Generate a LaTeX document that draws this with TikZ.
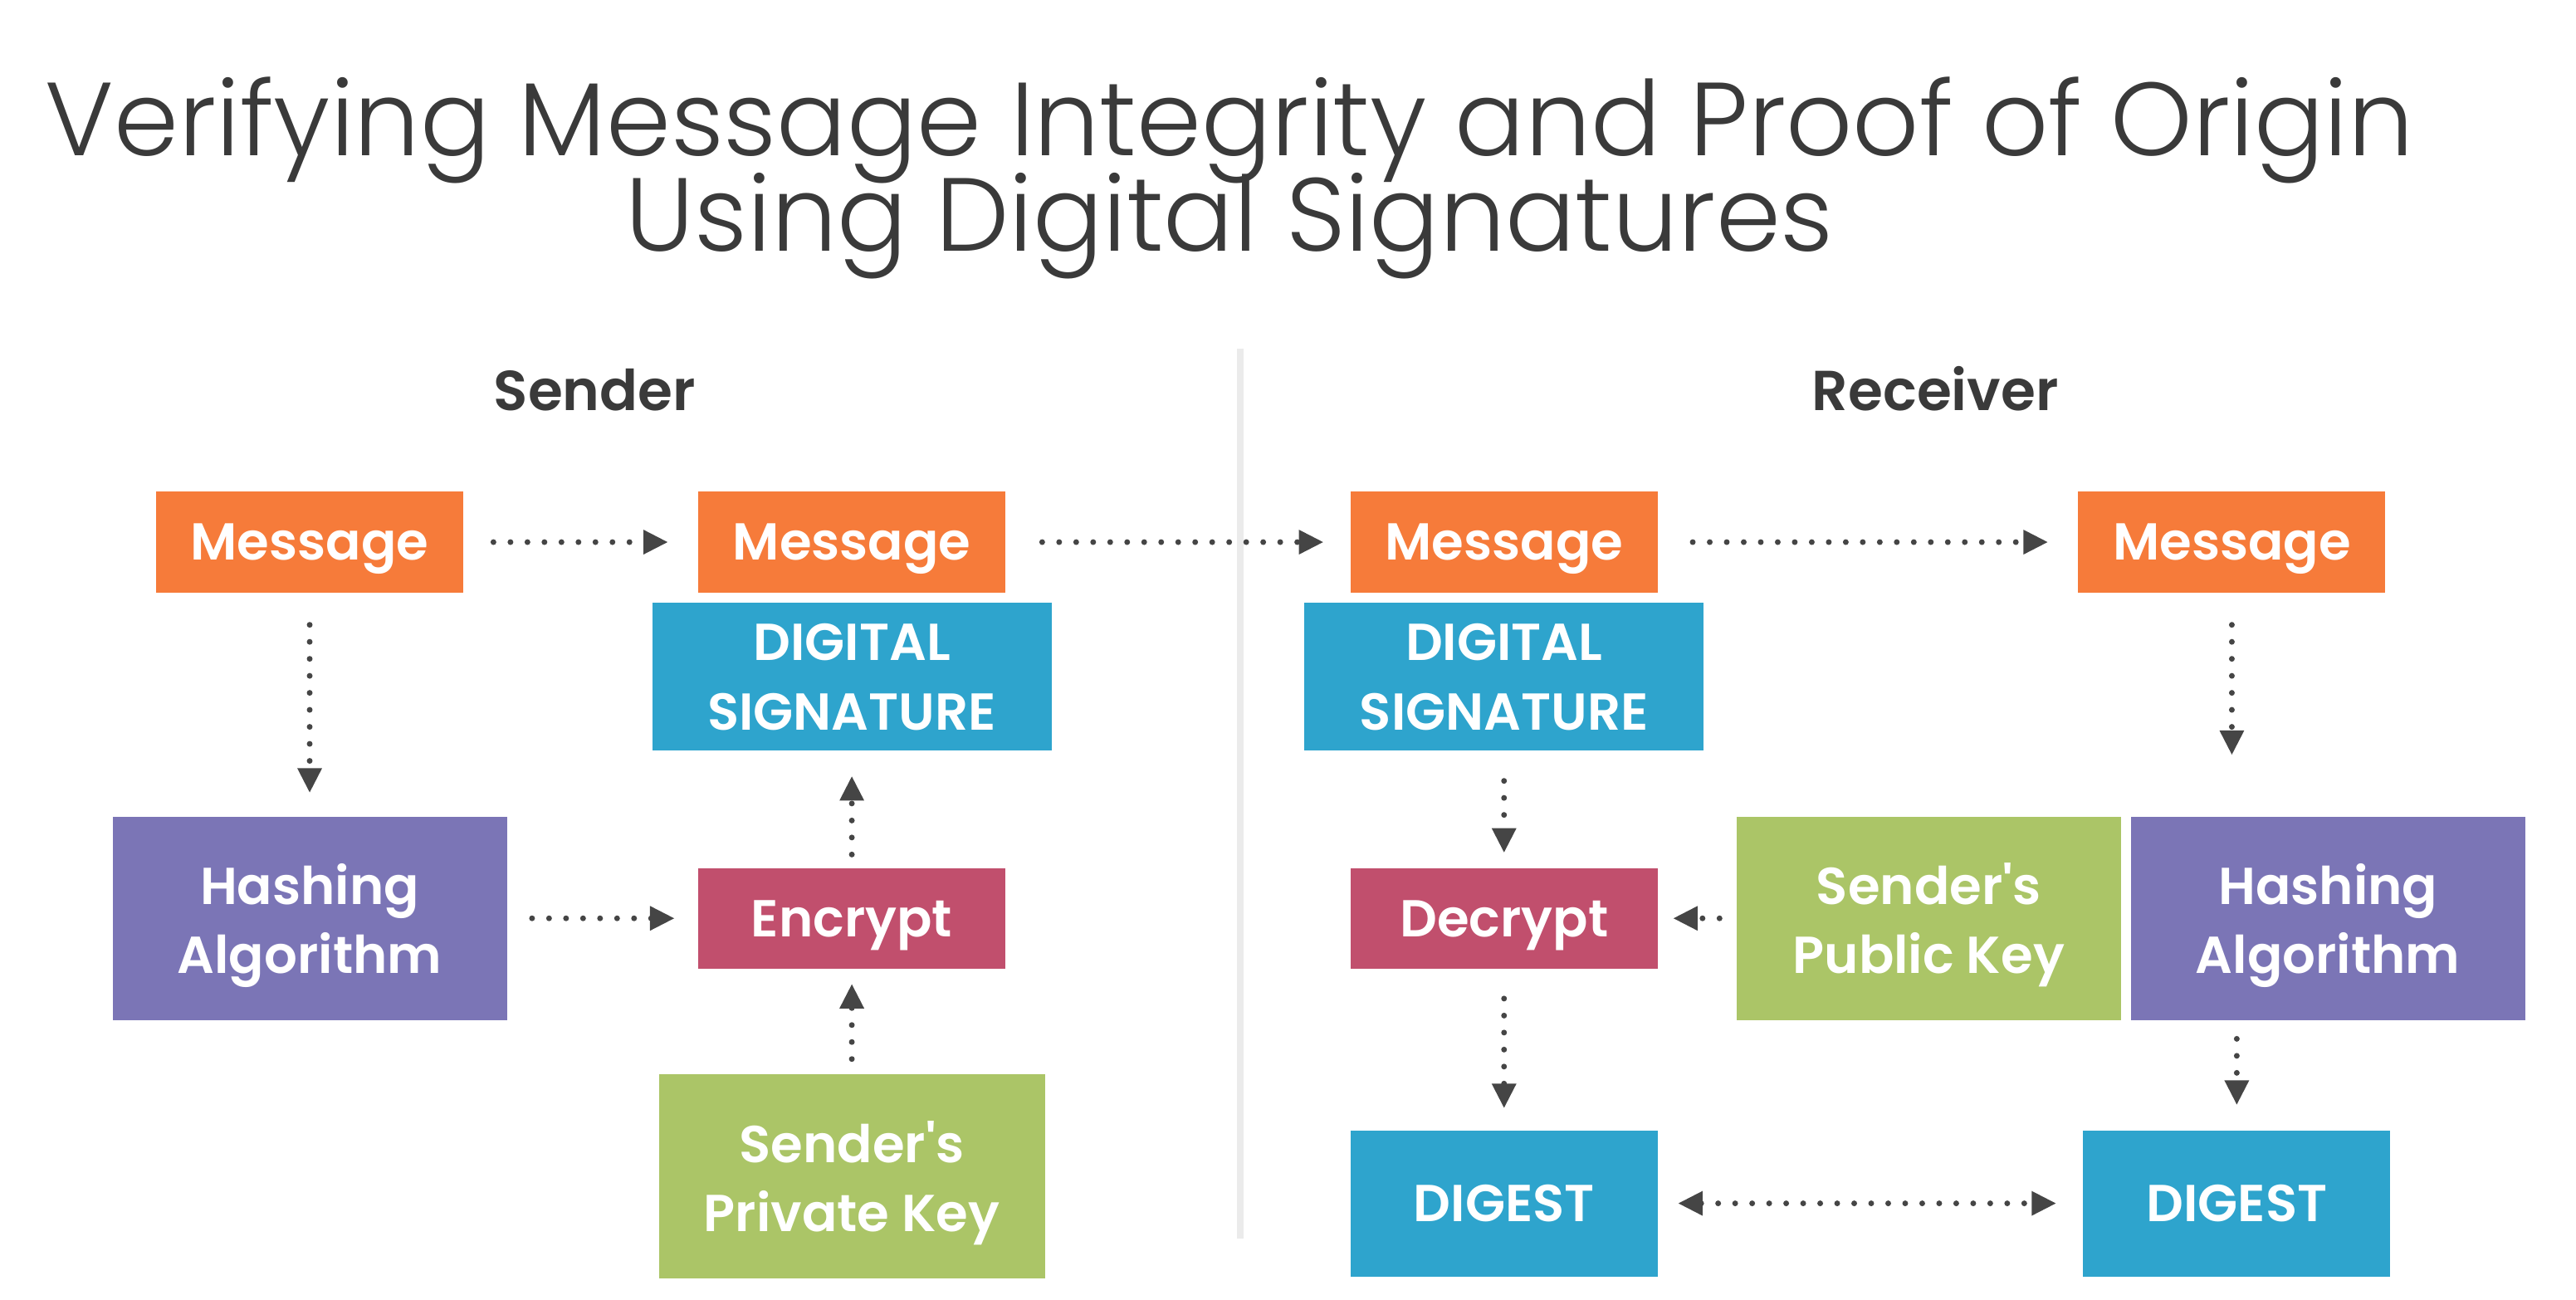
\documentclass[tikz,border=0pt]{standalone}
\usepackage{fontspec}
\setmainfont{Poppins}
\IfFontExistsTF{Poppins Light}{\newfontfamily\titlefont{Poppins Light}}{\newfontfamily\titlefont{Poppins}}
\IfFontExistsTF{Poppins SemiBold}{\newfontfamily\boxfont{Poppins SemiBold}}{\newfontfamily\boxfont{Poppins}}
\usetikzlibrary{arrows.meta}

\definecolor{msgorange}{HTML}{F67B3A}
\definecolor{sigblue}{HTML}{2EA4CD}
\definecolor{hashpurple}{HTML}{7B75B6}
\definecolor{cryptred}{HTML}{C14F6D}
\definecolor{keygreen}{HTML}{ABC567}
\definecolor{flowgray}{HTML}{454545}
\definecolor{titlegray}{HTML}{3A3A3A}

\begin{document}
\begin{tikzpicture}[>={Triangle[length=.3cm,width=.28cm]}, line join=round,
  box/.style={fill=#1, text=white, inner sep=0pt, align=center, text depth=0pt,
    font=\boxfont\fontsize{18}{24}\selectfont},
  msgbox/.style={box=msgorange, minimum width=3.74cm, minimum height=1.24cm},
  sigbox/.style={box=sigblue, minimum width=4.86cm, minimum height=1.80cm},
  hashbox/.style={box=hashpurple, minimum width=4.80cm, minimum height=2.48cm},
  cryptbox/.style={box=cryptred, minimum width=3.74cm, minimum height=1.22cm},
  keybox/.style={box=keygreen, minimum width=4.70cm, minimum height=2.48cm},
  digestbox/.style={box=sigblue, minimum width=3.74cm, minimum height=1.78cm},
  flow/.style={->, flowgray, line width=2pt, line cap=round,
    dash pattern=on 0pt off .207cm, shorten <=.34cm, shorten >=.34cm},
  heading/.style={anchor=base, text=titlegray, font=\boxfont\fontsize{19.5}{24}\selectfont},
  bigtitle/.style={anchor=base, text=titlegray, font=\titlefont\fontsize{36}{40}\selectfont}]
  \useasboundingbox (0,0) rectangle (31.36,15.82);

  % title
  \node[bigtitle] (title1) at (14.97,13.92) {Verifying Message Integrity and Proof of Origin};
  \node[bigtitle] (title2) at (14.97,12.76) {Using Digital Signatures};

  % the two sides
  \node[heading] (sender) at (7.24,10.82) {Sender};
  \node[heading] (receiver) at (23.56,10.82) {Receiver};
  \draw[black!8, line width=2.2pt] (15.10,11.58) -- (15.10,0.74);

  % sender
  \node[msgbox] (msgS1) at (3.77,9.22) {Message};
  \node[msgbox] (msgS2) at (10.37,9.22) {Message};
  \node[sigbox] (sigS) at (10.37,7.58) {DIGITAL\\SIGNATURE};
  \node[hashbox] (hashS) at (3.77,4.64) {Hashing\\Algorithm};
  \node[cryptbox] (encS) at (10.37,4.64) {Encrypt};
  \node[keybox] (privS) at (10.37,1.50) {Sender's\\Private Key};

  % receiver
  \node[msgbox] (msgR1) at (18.31,9.22) {Message};
  \node[sigbox] (sigR) at (18.31,7.58) {DIGITAL\\SIGNATURE};
  \node[cryptbox] (decR) at (18.31,4.64) {Decrypt};
  \node[digestbox] (digR1) at (18.31,1.17) {DIGEST};
  \node[msgbox] (msgR2) at (27.17,9.22) {Message};
  \node[keybox, minimum width=4.68cm] (pubR) at (23.48,4.64) {Sender's\\Public Key};
  \node[hashbox] (hashR) at (28.34,4.64) {Hashing\\Algorithm};
  \node[digestbox] (digR2) at (27.23,1.17) {DIGEST};

  % arrows
  \draw[flow, shorten <=.36cm, shorten >=.36cm] (msgS1) -- (msgS2);
  \draw[flow, shorten <=.44cm, shorten >=.32cm] (msgS2) -- (msgR1);
  \draw[flow, shorten <=.42cm, shorten >=.36cm] (msgR1) -- (msgR2);
  \draw[flow, shorten <=.38cm, shorten >=.28cm] (msgS1) -- (hashS);
  \draw[flow, shorten <=.30cm, shorten >=.28cm] (hashS) -- (encS);
  \draw[flow, shorten <=.16cm, shorten >=.30cm] (encS) -- (sigS);
  \draw[flow, shorten <=.18cm, shorten >=.18cm] (privS) -- (encS);
  \draw[flow, shorten <=.36cm, shorten >=.18cm] (sigR) -- (decR);
  \draw[flow, shorten <=.20cm, shorten >=.18cm] (pubR) -- (decR);
  \draw[flow, shorten <=.36cm, shorten >=.26cm] (decR) -- (digR1);
  \draw[flow, shorten <=.38cm, shorten >=.74cm] (msgR2) -- (msgR2 |- hashR.north);
  \draw[flow, shorten <=.22cm, shorten >=.30cm] (digR2 |- hashR.south) -- (digR2);
  \draw[flow, <->, shorten <=.24cm, shorten >=.32cm] (digR1) -- (digR2);
\end{tikzpicture}
\end{document}
